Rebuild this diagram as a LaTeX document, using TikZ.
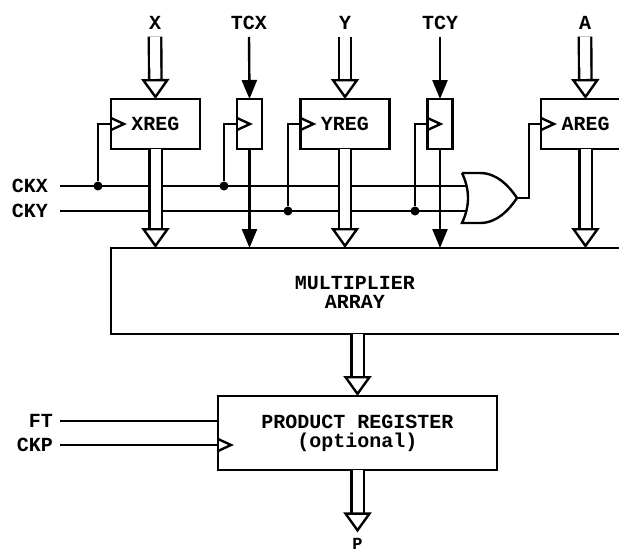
\documentclass[tikz,border=0pt]{standalone}
\usepackage{fontspec}
\setmainfont{Liberation Mono}
\usetikzlibrary{arrows.meta}

\tikzset{
  lbl/.style={font=\fontsize{20}{19}\selectfont\bfseries, inner sep=7pt, outer sep=0pt},
  reg/.style={draw, line width=2.4pt, minimum height=50pt, outer sep=0pt, inner sep=0pt,
              font=\fontsize{20}{19}\selectfont\bfseries},
  wire/.style={line width=2.4pt},
  bus/.style={line width=2.4pt, double=white, double distance=10pt,
              -{Triangle[length=20pt, width=28pt, fill=white]}},
  ctl/.style={line width=2.4pt, -{Triangle[length=19pt, width=15pt]}},
  junc/.style={circle, fill=black, inner sep=0pt, minimum size=9pt},
  clocktip/.pic={\draw[wire] (0,-6) -- (13,0) -- (0,6);}
}

\begin{document}
\begin{tikzpicture}[x=1pt, y=-1pt]
\useasboundingbox (0,0) rectangle (619,552);
\clip (0,0) rectangle (619,552);

% inputs along the top
\node[lbl] (X) at (155,23) {X};
\node[lbl] (TCX) at (249,23) {TCX};
\node[lbl] (Y) at (345,23) {Y};
\node[lbl] (TCY) at (440,23) {TCY};
\node[lbl] (A) at (585,23) {A};

% registers
\node[reg, minimum width=89pt] (XREG) at (155.5,124) {XREG};
\node[reg, minimum width=25pt] (TXREG) at (249.5,124) {};
\node[reg, minimum width=89pt] (YREG) at (345,124) {YREG};
\node[reg, minimum width=25pt] (TYREG) at (440,124) {};
\node[reg, minimum width=89pt] (AREG) at (585.5,124) {AREG};
\node[reg, minimum width=529pt, minimum height=86pt] (MULT) at (375.5,291) {};
\node[lbl, align=center] (MULTTXT) at (355,292) {MULTIPLIER\\ARRAY};
\node[reg, minimum width=279pt, minimum height=74pt, align=center] (PROD) at (357.5,433)
  {PRODUCT REGISTER\\(optional)};

% clock lines
\node[lbl, inner xsep=12pt, anchor=east] (CKX) at (60,186) {CKX};
\node[lbl, inner xsep=12pt, anchor=east] (CKY) at (60,211) {CKY};
\coordinate (ORa) at (466,186);
\coordinate (ORb) at (466,211);
\coordinate (ORout) at (517,198);
\draw[wire] (CKX.east) -- (ORa);
\draw[wire] (CKY.east) -- (ORb);

% or gate
\draw[wire] (462,173) -- (480,173) .. controls (497,173) and (509,186) .. (ORout)
  .. controls (509,210) and (497,223) .. (480,223) -- (462,223)
  .. controls (470,206) and (470,190) .. (462,173);

% junctions and clock stems
\node[junc] (XDOT) at (98,186) {};
\node[junc] (TXDOT) at (224,186) {};
\node[junc] (YDOT) at (288,211) {};
\node[junc] (TYDOT) at (415,211) {};
\draw[wire] (XDOT) |- (XREG.west);
\draw[wire] (TXDOT) |- (TXREG.west);
\draw[wire] (YDOT) |- (YREG.west);
\draw[wire] (TYDOT) |- (TYREG.west);
\draw[wire] (ORout) -- (529,198) |- (AREG.west);
\foreach \r in {XREG,TXREG,YREG,TYREG,AREG}
  \pic at (\r.west) {clocktip};

% buses into and out of the registers
\draw[bus] (X.south) -- (XREG.north);
\draw[bus] (Y.south) -- (YREG.north);
\draw[bus] (A.south) -- (AREG.north);
\draw[bus] (XREG.south) -- (XREG.south |- MULT.north);
\draw[bus] (YREG.south) -- (YREG.south |- MULT.north);
\draw[bus] (AREG.south) -- (AREG.south |- MULT.north);
\draw[ctl] (TCX.south) -- (TXREG.north);
\draw[ctl] (TCY.south) -- (TYREG.north);
\draw[ctl] (TXREG.south) -- (TXREG.south |- MULT.north);
\draw[ctl] (TYREG.south) -- (TYREG.south |- MULT.north);

% product register
\draw[bus] (PROD.north |- MULT.south) -- (PROD.north);
\node[lbl, font=\fontsize{17}{17}\selectfont\bfseries, inner sep=6pt] (P) at (357.5,544) {P};
\draw[bus] (PROD.south) -- (P.north);
\node[lbl, anchor=east] (FT) at (60,421) {FT};
\node[lbl, anchor=east] (CKP) at (60,445) {CKP};
\draw[wire] (FT.east) -- (FT.east -| PROD.west);
\draw[wire] (CKP.east) -- (CKP.east -| PROD.west) coordinate (CKPIN);
\pic at (CKPIN) {clocktip};
\end{tikzpicture}
\end{document}
